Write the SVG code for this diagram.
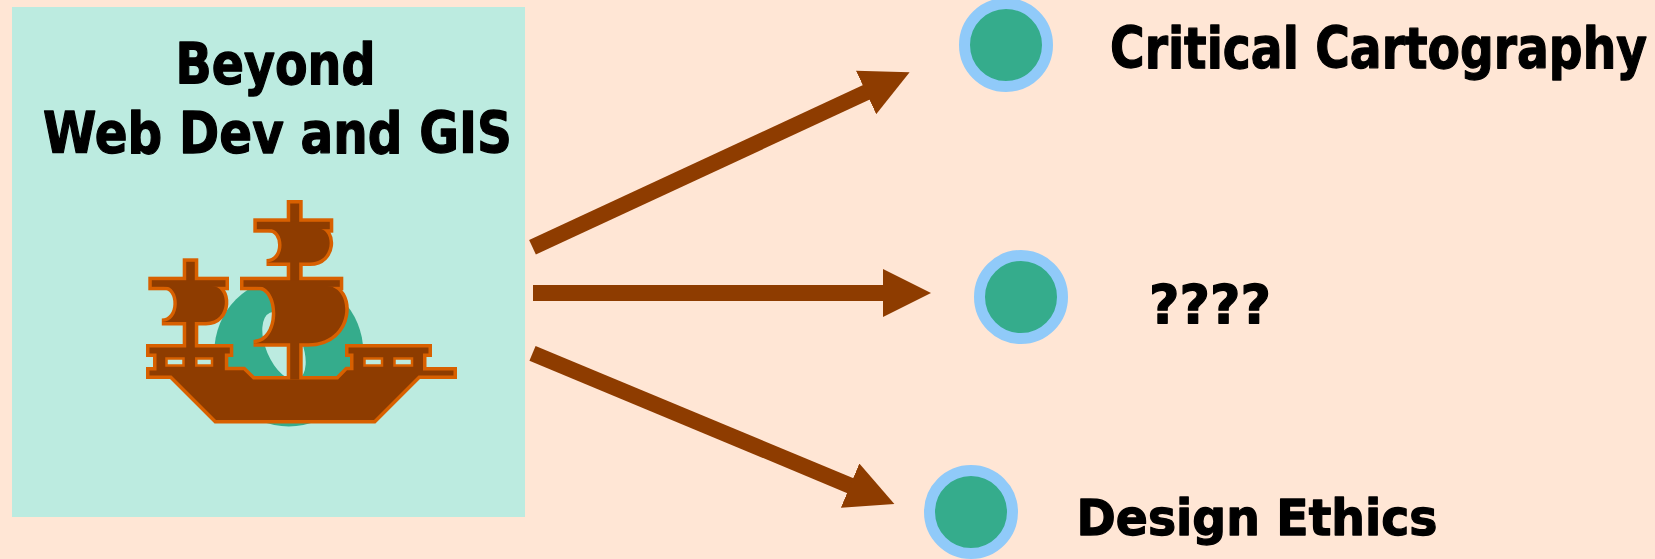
<svg xmlns="http://www.w3.org/2000/svg" xmlns:xlink="http://www.w3.org/1999/xlink" width="1655" height="559" viewBox="0 0 1655 559">
  <style>
    .lbl { font-family: "DejaVu Sans", "Liberation Sans", sans-serif; font-weight: bold; fill: #000000; stroke: #000000; stroke-width: 1.3; stroke-linejoin: round; }
    .conn { stroke: #8E3C00; stroke-width: 16; fill: none; stroke-linecap: butt; marker-end: url(#ah); }
    .dot { fill: #35AC8C; stroke: #90CAF9; stroke-width: 11; }
    .win { fill: #BCEBE0; stroke: #D86000; stroke-width: 2.5; }
  </style>
  <defs>
    <marker id="ah" markerUnits="userSpaceOnUse" viewBox="0 0 48 48" markerWidth="48" markerHeight="48" refX="1" refY="24" orient="auto">
      <path d="M0,0 L48,24 L0,48 Z" fill="#8E3C00"/>
    </marker>
    <clipPath id="discClip">
      <circle cx="288.8" cy="352" r="74.5"/>
    </clipPath>
    <g id="shipShapes">
      <rect x="290.2" y="203.5" width="9" height="176"/>
      <rect x="256.8" y="221.8" width="73" height="7.4"/>
      <path d="M268,228.5 L318,228.5 C334.7,228.5 334.7,262.5 310,262.5 L266.5,262.5 C286.3,262.5 286.3,228.5 268,228.5 Z"/>
      <rect x="243.5" y="280.2" width="96.3" height="6.6"/>
      <path d="M256.8,286 L326.5,286 C354,286 354,343.2 308,343.2 L253.5,343.2 C282,343.2 282,286 256.8,286 Z"/>
      <rect x="186.2" y="261.8" width="8.6" height="90"/>
      <rect x="151.8" y="280.2" width="73.7" height="6.6"/>
      <path d="M163.5,286 L211.5,286 C230.2,286 230.2,322 206,322 L161.8,322 C181.6,322 181.6,286 163.5,286 Z"/>
      <path d="M149.5,347.5 L229.8,347.5 L229.8,353.5 L224.8,353.5 L224.8,370.2 L243.5,370.2 L253,379.5 L338,379.5 L347,370.2 L353.5,370.2 L353.5,353.5 L348.5,353.5 L348.5,347.5 L428.5,347.5 L428.5,353.5 L423,353.5 L423,370.5 L453.5,370.5 L453.5,375.5 L418.5,375.5 L374,420 L216,420 L171.5,375.5 L149.5,375.5 L149.5,370.5 L156.5,370.5 L156.5,353.5 L149.5,353.5 Z"/>
    </g>
  </defs>

  <rect x="0" y="0" width="1655" height="559" fill="#FFE6D5"/>

  <g id="node-source">
    <rect x="12" y="7" width="513" height="510" fill="#BCEBE0"/>
    <text class="lbl" x="175.5" y="84" font-size="57" textLength="200" lengthAdjust="spacingAndGlyphs">Beyond</text>
    <text class="lbl" x="43" y="153" font-size="57" textLength="469" lengthAdjust="spacingAndGlyphs">Web Dev and GIS</text>
    <g id="ship">
      <circle cx="288.8" cy="352" r="74.5" fill="#35AC8C"/>
      <ellipse cx="284" cy="346" rx="18" ry="36" fill="#BCEBE0" transform="rotate(-23 284 346)" clip-path="url(#discClip)"/>
      <use xlink:href="#shipShapes" href="#shipShapes" fill="#8E3C00" stroke="#D86000" stroke-width="7" stroke-linejoin="miter"/>
      <use xlink:href="#shipShapes" href="#shipShapes" fill="#8E3C00" stroke="none"/>
      <rect class="win" x="166.5" y="358.5" width="17" height="7"/>
      <rect class="win" x="196.3" y="358.5" width="15.7" height="7"/>
      <rect class="win" x="364.5" y="358.5" width="17.5" height="7"/>
      <rect class="win" x="394.5" y="358.5" width="17.5" height="7"/>
    </g>
  </g>

  <g id="connectors">
    <line class="conn" x1="532.5" y1="247.3" x2="867" y2="92"/>
    <line class="conn" x1="533" y1="293" x2="884" y2="293"/>
    <line class="conn" x1="532.5" y1="353.3" x2="851" y2="486"/>
  </g>

  <g id="node-critical">
    <circle class="dot" cx="1006" cy="45" r="41.5"/>
    <text class="lbl" transform="translate(1110 67.7) scale(0.83 1)" x="0" y="0" font-size="57" textLength="647" lengthAdjust="spacingAndGlyphs">Critical Cartography</text>
  </g>

  <g id="node-unknown">
    <circle class="dot" cx="1021" cy="297" r="41.5"/>
    <text class="lbl" x="1149" y="323" font-size="54" textLength="122" lengthAdjust="spacingAndGlyphs">????</text>
  </g>

  <g id="node-ethics">
    <circle class="dot" cx="971" cy="512" r="41.5"/>
    <text class="lbl" x="1076.5" y="535" font-size="49" textLength="361" lengthAdjust="spacingAndGlyphs">Design Ethics</text>
  </g>
</svg>
